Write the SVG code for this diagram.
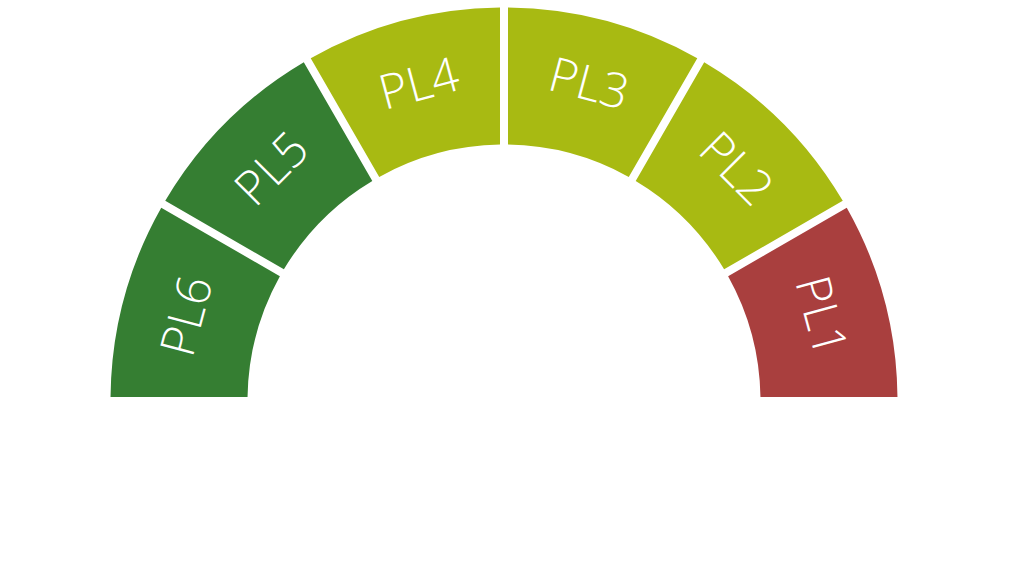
<svg xmlns="http://www.w3.org/2000/svg" width="1009" height="585" viewBox="0 0 1009 585">
  <style>
    .dark { fill: #357E32; }
    .lime { fill: #A8BA12; }
    .red { fill: #A93F3E; }
    .lbl { font-family: "Open Sans", "Liberation Sans", sans-serif; font-weight: 300; font-size: 48px; fill: #FFFFFF; text-anchor: middle; }
  </style>
  <rect width="1009" height="585" fill="#FFFFFF"/>
  <g id="PL6">
    <path class="dark" d="M110.52,397 A393.5,393.5 0 0 1 161.24,207.72 L279.89,276.23 A256.5,256.5 0 0 0 247.53,397 Z"/>
    <text class="lbl" transform="translate(186.21,315.85) rotate(-75)" dy="17">PL6</text>
  </g>
  <g id="PL5">
    <path class="dark" d="M165.24,200.80 A393.5,393.5 0 0 1 303.80,62.24 L372.30,180.89 A256.5,256.5 0 0 0 283.89,269.30 Z"/>
    <text class="lbl" transform="translate(271.36,168.36) rotate(-45)" dy="17">PL5</text>
  </g>
  <g id="PL4">
    <path class="lime" d="M310.72,58.24 A393.5,393.5 0 0 1 500,7.52 L500,144.53 A256.5,256.5 0 0 0 379.23,176.89 Z"/>
    <text class="lbl" transform="translate(418.85,83.21) rotate(-15)" dy="17">PL4</text>
  </g>
  <g id="PL3">
    <path class="lime" d="M508,7.52 A393.5,393.5 0 0 1 697.28,58.24 L628.77,176.89 A256.5,256.5 0 0 0 508,144.53 Z"/>
    <text class="lbl" transform="translate(589.15,83.21) rotate(15)" dy="17">PL3</text>
  </g>
  <g id="PL2">
    <path class="lime" d="M704.20,62.24 A393.5,393.5 0 0 1 842.76,200.80 L724.11,269.30 A256.5,256.5 0 0 0 635.70,180.89 Z"/>
    <text class="lbl" transform="translate(736.64,168.36) rotate(45)" dy="17">PL2</text>
  </g>
  <g id="PL1">
    <path class="red" d="M846.76,207.72 A393.5,393.5 0 0 1 897.48,397 L760.47,397 A256.5,256.5 0 0 0 728.11,276.23 Z"/>
    <text class="lbl" transform="translate(821.79,315.85) rotate(75)" dy="17">PL1</text>
  </g>
  <g id="connectors"/>
</svg>
